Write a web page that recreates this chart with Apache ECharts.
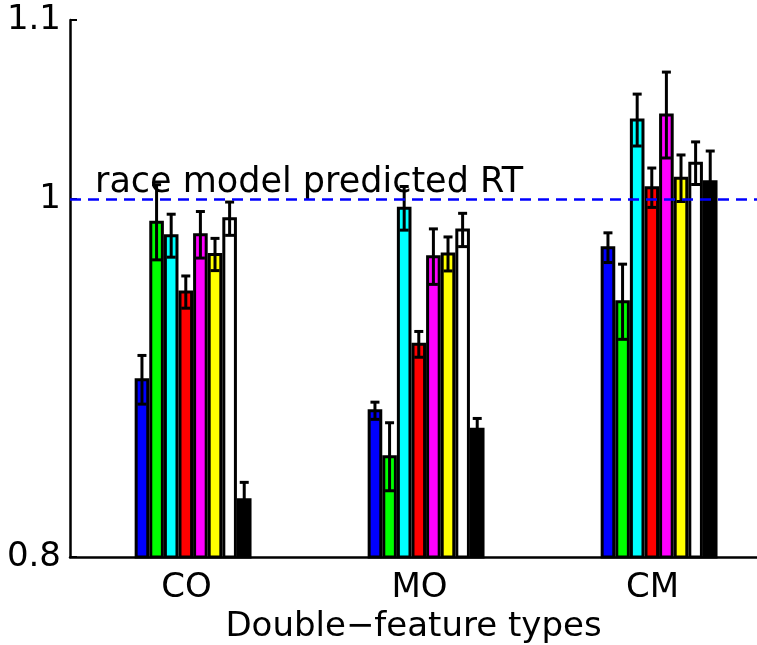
<!DOCTYPE html>
<html>
<head>
<meta charset="utf-8">
<script src="https://cdn.jsdelivr.net/npm/echarts@6/dist/echarts.min.js"></script>
<style>
  html, body { margin: 0; padding: 0; background: #fff; }
  #chart { width: 757px; height: 645px; }
</style>
</head>
<body>
<div id="chart"></div>
<script>
// double-feature types on the x axis
var categories = ['CO', 'MO', 'CM'];
// one bar per condition inside each group, left to right
var barColors = ['#0000ff', '#00ff00', '#00ffff', '#ff0000', '#ff00ff', '#ffff00', '#ffffff', '#000000'];

// normalised RT per group
var rtCO = [0.899, 0.987, 0.9795, 0.948, 0.980, 0.969, 0.989, 0.832];
var rtMO = [0.8817, 0.856, 0.9948, 0.9188, 0.9678, 0.9693, 0.9827, 0.8713];
var rtCM = [0.9728, 0.9426, 1.0441, 1.0063, 1.0469, 1.0116, 1.020, 1.0097];
// half-length of the error bars
var errCO = [0.0136, 0.021, 0.012, 0.009, 0.013, 0.009, 0.0093, 0.0097];
var errMO = [0.0048, 0.019, 0.0122, 0.0072, 0.0155, 0.0095, 0.0093, 0.0061];
var errCM = [0.0083, 0.021, 0.0145, 0.011, 0.024, 0.013, 0.0119, 0.0171];

var yTicks = [0.8, 1, 1.1];
var xTicks = [0, 1, 2];
var raceModelRT = 1;

var FONT = 'DejaVu Sans, sans-serif';
var FS = 34;

function renderBar(params, api) {
    var cat = api.value(0);
    var val = api.value(1);
    var err = api.value(2);
    var k = api.value(3);
    var band = api.size([1, 0])[0];
    var pitch = band * 0.0627;
    var cx = api.coord([cat, 0.8])[0] + band * 0.0283 + (k - 3.5) * pitch;
    var base = api.coord([cat, 0.8])[1];
    var top = api.coord([cat, val])[1];
    var hi = api.coord([cat, val + err])[1];
    var lo = api.coord([cat, val - err])[1];
    var w = pitch - 3;
    var cap = 4.5;
    var ls = {stroke: '#000', lineWidth: 3};
    return {
        type: 'group',
        children: [
            {
                type: 'rect',
                shape: {x: cx - w / 2, y: top, width: w, height: base - top},
                style: {fill: api.visual('color'), stroke: '#000', lineWidth: 3}
            },
            {type: 'line', shape: {x1: cx, y1: lo, x2: cx, y2: hi}, style: ls},
            {type: 'line', shape: {x1: cx - cap, y1: hi, x2: cx + cap, y2: hi}, style: ls},
            {type: 'line', shape: {x1: cx - cap, y1: lo, x2: cx + cap, y2: lo}, style: ls}
        ]
    };
}

var series = barColors.map(function (color, k) {
    return {
        type: 'custom',
        name: 'c' + k,
        color: color,
        renderItem: renderBar,
        clip: false,
        encode: {x: 0, y: 1},
        data: [
            [0, rtCO[k], errCO[k], k],
            [1, rtMO[k], errMO[k], k],
            [2, rtCM[k], errCM[k], k]
        ],
        z: 3
    };
});

series.push({
    type: 'line',
    data: [],
    symbol: 'none',
    silent: true,
    markLine: {
        symbol: 'none',
        silent: true,
        label: {show: false},
        lineStyle: {color: '#0000ff', width: 2.5, type: [11, 7]},
        data: [{yAxis: raceModelRT}]
    },
    z: 5
});

var myChart = echarts.init(document.getElementById('chart'));
var option = {
    animation: false,
    backgroundColor: '#fff',
    grid: {left: 70, top: 20, right: 0, bottom: 88, outerBoundsMode: 'none'},
    xAxis: {
        type: 'value',
        min: -0.5,
        max: 2.4485,
        splitLine: {show: false},
        axisLine: {onZero: false, lineStyle: {color: '#000', width: 2.5}},
        axisTick: {show: false},
        axisLabel: {
            color: '#000', fontSize: FS, fontFamily: FONT, margin: 14,
            customValues: xTicks,
            formatter: function (v) { return categories[Math.round(v)]; }
        },
        name: 'Double\u2212feature types',
        nameLocation: 'middle',
        nameGap: 39,
        nameTextStyle: {color: '#000', fontSize: FS, fontFamily: FONT}
    },
    yAxis: {
        type: 'value',
        min: 0.8,
        max: 1.1,
        splitLine: {show: false},
        axisLine: {show: true, onZero: false, lineStyle: {color: '#000', width: 2.5}},
        axisTick: {show: true, inside: true, length: 7, customValues: yTicks, lineStyle: {color: '#000', width: 2}},
        axisLabel: {
            color: '#000', fontSize: FS, fontFamily: FONT, margin: 9,
            customValues: yTicks,
            formatter: function (v) { return String(Math.round(v * 10) / 10); }
        }
    },
    graphic: [{
        type: 'text',
        left: 95,
        top: 165,
        style: {text: 'race model predicted RT', fill: '#000', fontSize: 35, fontFamily: FONT}
    }],
    series: series
};
myChart.setOption(option);
</script>
</body>
</html>
